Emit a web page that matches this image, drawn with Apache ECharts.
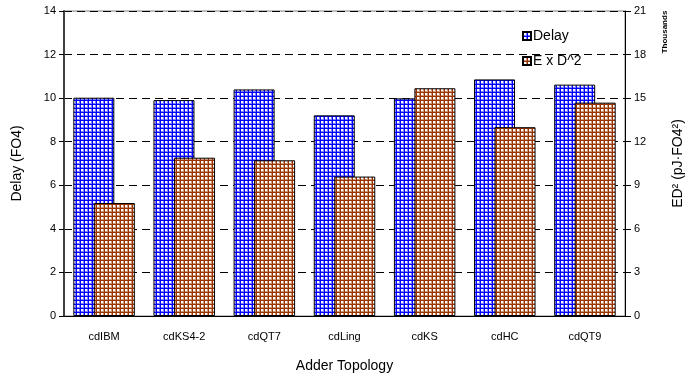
<!DOCTYPE html>
<html><head><meta charset="utf-8">
<script src="https://cdn.jsdelivr.net/npm/echarts@6/dist/echarts.min.js"></script>
<style>html,body{margin:0;padding:0;background:#fff}#c{width:693px;height:379px}</style>
</head><body><div id="c"></div>
<script>
const categories = ['cdIBM','cdKS4-2','cdQT7','cdLing','cdKS','cdHC','cdQT9'];
const delayValues = [10.02, 9.91, 10.4, 9.21, 9.99, 10.86, 10.62];
const edThousands = [7.78, 10.9, 10.72, 9.6, 15.68, 13.0, 14.69];
const leftTicks = [0, 14, 2];
const rightTicks = [0, 21, 3];

function grid(color, tint){
  const c = document.createElement('canvas');
  c.width = 4; c.height = 4;
  const g = c.getContext('2d');
  g.fillStyle = color; g.fillRect(0,0,4,4);
  g.fillStyle = tint; g.fillRect(1,1,3,3);
  g.fillStyle = '#ffffff'; g.fillRect(1,1,2,2);
  return {image: c, repeat: 'repeat'};
}

const font = 'Liberation Sans, Arial, sans-serif';
const chart = echarts.init(document.getElementById('c'), null, {renderer:'canvas'});
chart.setOption({
  animation: false,
  textStyle: {fontFamily: font, color: '#000'},
  grid: {left: 64, right: 65, top: 11, bottom: 63, show: true, borderColor: '#808080', borderWidth: 1},
  legend: {
    orient: 'vertical', left: 517, top: 24, itemWidth: 8, itemHeight: 8, itemGap: 11,
    textStyle: {fontFamily: font, fontSize: 14, color: '#000', padding: [0,0,0,-3]},
    data: [{name:'Delay', icon:'rect'}, {name:'E x D^2', icon:'rect'}]
  },
  xAxis: {
    type: 'category', data: categories,
    axisLine: {lineStyle: {color: '#000', width: 1}},
    axisTick: {length: 4, lineStyle: {color: '#000'}},
    axisLabel: {fontSize: 11, color: '#000', margin: 15, fontFamily: font},
    name: 'Adder Topology', nameLocation: 'middle', nameGap: 43,
    nameTextStyle: {fontSize: 14, color: '#000', fontFamily: font}
  },
  yAxis: [{
    type: 'value', min: leftTicks[0], max: leftTicks[1], interval: leftTicks[2],
    axisLine: {show: true, lineStyle: {color: '#404040', width: 2}},
    axisTick: {show: true, length: 5, lineStyle: {color: '#000'}},
    axisLabel: {fontSize: 11, color: '#000', margin: 8, fontFamily: font},
    splitLine: {show: true, lineStyle: {color: '#000', type: [8,5], width: 1}},
    name: 'Delay (FO4)', nameLocation: 'middle', nameGap: 40, nameRotate: 90,
    nameTextStyle: {fontSize: 14, color: '#000', fontFamily: font}
  },{
    type: 'value', min: rightTicks[0], max: rightTicks[1], interval: rightTicks[2], position: 'right',
    axisLine: {show: true, lineStyle: {color: '#000', width: 1}},
    axisTick: {show: true, length: 6, lineStyle: {color: '#000'}},
    axisLabel: {fontSize: 11, color: '#000', margin: 9, fontFamily: font},
    splitLine: {show: false},
    name: 'ED² (pJ·FO4²)', nameLocation: 'middle', nameGap: 46, nameRotate: 90,
    nameTextStyle: {fontSize: 14, color: '#000', fontFamily: font, padding: [0,0,10,0]}
  }],
  graphic: [{
    type: 'text', x: 665, y: 32, rotation: Math.PI/2,
    style: {text: 'Thousands', font: 'bold 8px ' + font, fill: '#000', align: 'center', verticalAlign: 'middle'}
  }],
  series: [{
    name: 'Delay', type: 'bar', yAxisIndex: 0, data: delayValues,
    barWidth: 41, barGap: '-50%',
    itemStyle: {color: grid('#0000ff', '#8080ff'), borderColor: '#000', borderWidth: 1}
  },{
    name: 'E x D^2', type: 'bar', yAxisIndex: 1, data: edThousands,
    barWidth: 41, barGap: '-50%',
    itemStyle: {color: grid('#993300', '#cc9980'), borderColor: '#000', borderWidth: 1}
  }]
});
</script></body></html>
